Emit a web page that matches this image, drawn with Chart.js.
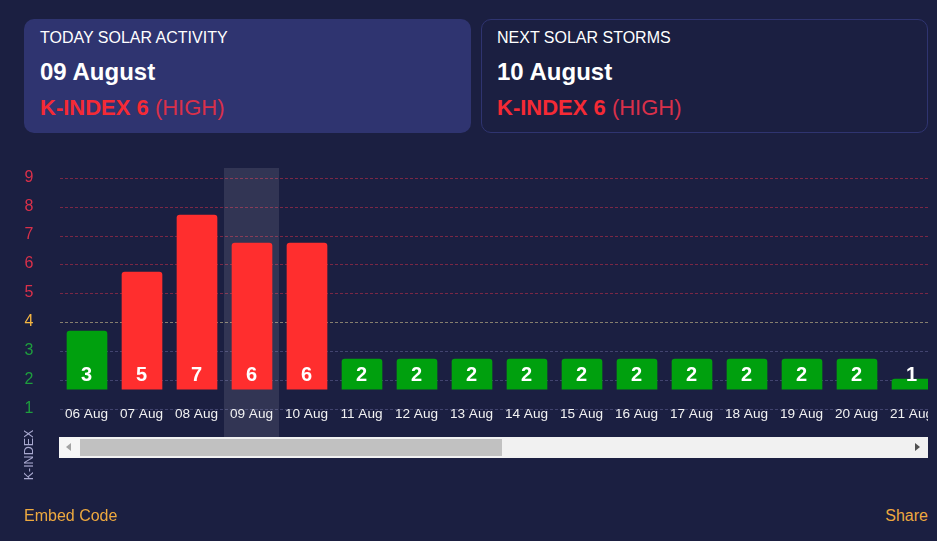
<!DOCTYPE html>
<html><head><meta charset="utf-8">
<style>
html,body{margin:0;padding:0;background:#1b1f41;width:937px;height:541px;overflow:hidden;font-family:"Liberation Sans",Arial,sans-serif;}
.abs{position:absolute;white-space:nowrap;}
.card{position:absolute;top:19px;width:447px;height:114px;border-radius:10px;box-sizing:border-box;}
.c1{left:24px;background:#2f3470;}
.c2{left:481px;border:1px solid #2f3470;}
.t1{font-size:16px;color:#fff;line-height:18px;top:29px;}
.t2{font-size:24px;font-weight:bold;color:#fff;line-height:28px;top:58px;}
.t3{font-size:22px;color:#d9304a;line-height:26px;top:95px;}
.t3 b{color:#f52a35;}
#wrap{position:absolute;left:0;top:0;width:928px;height:460px;overflow:hidden;}
#sb{position:absolute;left:59px;top:437px;width:869px;height:21px;background:#f1f1f1;}
#thumb{position:absolute;left:21px;top:2px;width:422px;height:17px;background:#c1c1c1;}
#sbl{position:absolute;left:0;top:0;width:21px;height:21px;background:#f6f6f6;}
.arr{position:absolute;top:6px;width:0;height:0;border-top:4.5px solid transparent;border-bottom:4.5px solid transparent;}
#al{left:7px;border-right:5px solid #a3a3a3;}
#ar{left:856px;border-left:5px solid #505050;}
#yt{position:absolute;left:29px;top:455px;transform:translate(-50%,-50%) rotate(-90deg);font-size:12.5px;color:#a9a9d0;white-space:nowrap;}
.foot{font-size:16px;color:#eea93f;top:507px;line-height:18px;}
</style></head><body>
<div class="card c1"></div><div class="card c2"></div>
<div class="abs t1" style="left:40px">TODAY SOLAR ACTIVITY</div>
<div class="abs t2" style="left:40px">09 August</div>
<div class="abs t3" style="left:40px"><b>K-INDEX 6</b> (HIGH)</div>
<div class="abs t1" style="left:497px">NEXT SOLAR STORMS</div>
<div class="abs t2" style="left:497px">10 August</div>
<div class="abs t3" style="left:497px"><b>K-INDEX 6</b> (HIGH)</div>
<div id="wrap"><canvas id="c" width="940" height="460" style="display:block;width:940px;height:460px"></canvas></div>
<div id="sb"><div id="sbl"></div><div id="thumb"></div><div class="arr" id="al"></div><div class="arr" id="ar"></div></div>
<div id="yt">K-INDEX</div>
<div class="abs foot" style="left:24px">Embed Code</div>
<div class="abs foot" style="right:9px">Share</div>
<script src="https://cdn.jsdelivr.net/npm/chart.js@4"></script>
<script>
const categories = ["06 Aug","07 Aug","08 Aug","09 Aug","10 Aug","11 Aug","12 Aug","13 Aug","14 Aug","15 Aug","16 Aug","17 Aug","18 Aug","19 Aug","20 Aug","21 Aug"];
const kIndex = [3,5,7,6,6,2,2,2,2,2,2,2,2,2,2,1];
const barTops = [3.71,5.75,7.73,6.76,6.76,2.74,2.74,2.74,2.74,2.74,2.74,2.74,2.74,2.74,2.74,2.05];
const barBase = 1.70;
const yTicks = [1,2,3,4,5,6,7,8,9];
const todayIndex = 3;

const RED = '#ff2e2e', GREEN = '#00a00e';
const FONT = '"Liberation Sans", Arial, sans-serif';
function tickColor(v){ return v >= 5 ? '#d9304a' : v === 4 ? '#f5b642' : '#1e9e3e'; }
function gridColor(v){ return v >= 5 ? 'rgba(217,48,74,0.5)' : v === 4 ? 'rgba(205,190,140,0.6)' : 'rgba(125,125,180,0.4)'; }

const bandPlugin = {
  id:'band',
  beforeDatasetsDraw(chart){
    const {ctx, chartArea:a, scales:{x}} = chart;
    const c = x.getPixelForValue(todayIndex);
    ctx.save();
    ctx.fillStyle = 'rgba(255,255,255,0.1)';
    ctx.fillRect(Math.floor(c - 27.5), a.top, 55, a.bottom - a.top);
    ctx.restore();
  }
};
const labelPlugin = {
  id:'vals',
  afterDatasetsDraw(chart){
    const {ctx, scales:{x,y}, chartArea:a} = chart;
    const meta = chart.getDatasetMeta(0);
    ctx.save();
    ctx.textAlign = 'center';
    ctx.textBaseline = 'middle';
    ctx.fillStyle = '#fff';
    ctx.font = 'bold 20px ' + FONT;
    const py = y.getPixelForValue(barBase) - 14;
    meta.data.forEach((el,i)=>ctx.fillText(String(kIndex[i]), el.x - 0.5, py));
    ctx.fillStyle = '#f2f2f2';
    ctx.font = '13.6px ' + FONT;
    categories.forEach((c,i)=>ctx.fillText(c, x.getPixelForValue(i) - 0.5, a.bottom - 23));
    ctx.restore();
  }
};
new Chart(document.getElementById('c'),{
  type:'bar',
  data:{labels:categories,datasets:[{
    data:barTops, base:barBase,
    backgroundColor:kIndex.map(v=>v>=5?RED:GREEN),
    barThickness:40,
    borderRadius:{topLeft:3,topRight:3,bottomLeft:0,bottomRight:0},
    borderSkipped:'start'
  }]},
  plugins:[bandPlugin,labelPlugin],
  options:{
    responsive:false,animation:false,
    layout:{padding:{top:168,left:0,right:0.5,bottom:23}},
    plugins:{legend:{display:false},tooltip:{enabled:false}},
    scales:{
      x:{
        grid:{display:false,drawTicks:false},border:{display:false},
        ticks:{display:false},
        afterFit(s){s.height=0;}
      },
      y:{
        min:0.041,max:9.357,
        afterBuildTicks(s){s.ticks=yTicks.map(v=>({value:v}));},
        afterFit(s){s.width=59.5;s.paddingTop=0;s.paddingBottom=0;},
        grid:{drawTicks:false,color:c=>gridColor(c.tick.value)},
        border:{display:false,dash:[3,2]},
        ticks:{
          crossAlign:'center',padding:26,
          color:c=>tickColor(c.tick.value),
          callback:v=>[String(v),''],
          font:{size:16,lineHeight:'2px',family:FONT}
        }
      }
    }
  }
});
</script>
</body></html>
